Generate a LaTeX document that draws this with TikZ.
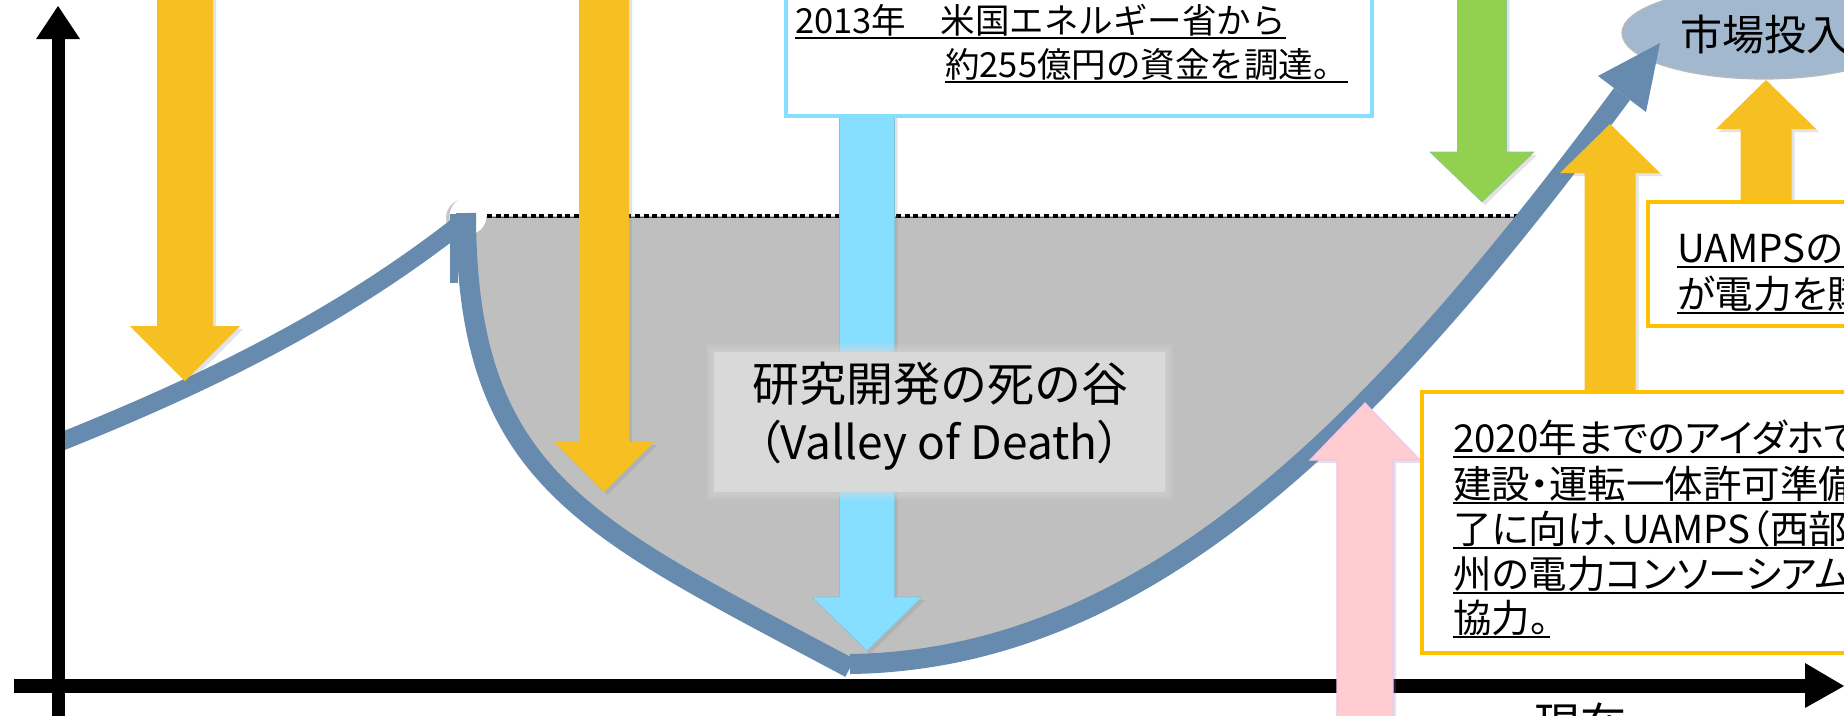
\documentclass[tikz,border=0pt]{standalone}
\usepackage{fontspec}
\setmainfont{Noto Sans CJK JP}
\newfontfamily\jpp{Noto Sans CJK JP}[RawFeature=+palt]
\usetikzlibrary{shadows}
\definecolor{ylw}{HTML}{F6C023}
\definecolor{lblue}{HTML}{87DFFF}
\definecolor{grn}{HTML}{92D050}
\definecolor{pnk}{HTML}{FFCCD0}
\definecolor{pnkedge}{HTML}{EEC4F2}
\definecolor{cblue}{HTML}{668BAE}
\definecolor{valley}{HTML}{BFBFBF}
\definecolor{lbl}{HTML}{D9D9D9}
\definecolor{ell}{HTML}{A2B8CF}
\definecolor{orng}{HTML}{FFC000}
\definecolor{dotline}{HTML}{3F4A6B}
% vertical block arrow: cx, tail y, head base y, tip y, shaft half width, head half width, style
\newcommand{\varrow}[7]{%
  \path[#7] (#1-#5,#2) -- (#1-#5,#3) -- (#1-#6,#3) -- (#1,#4) -- (#1+#6,#3) -- (#1+#5,#3) -- (#1+#5,#2) -- cycle;}
% underlined text line: name, x, baseline y, font, text
\newcommand{\ultext}[5]{%
  \node[anchor=base west, inner sep=0pt, font=#4] (#1) at (#2,#3) {#5};
  \draw[ulline] ([yshift=-5pt]#1.base west) -- ([yshift=-5pt]#1.base east);}
\tikzset{
  ulline/.style={line width=2.4pt, black},
  shd/.style={drop shadow={opacity=0.22, shadow xshift=3pt, shadow yshift=-3pt}},
  yarrow/.style={fill=ylw, shd},
  barrow/.style={fill=lblue, draw=lblue!70!gray, line width=0.6pt, shd},
  garrow/.style={fill=grn, draw=grn!60!lblue!80!gray, line width=0.6pt, shd},
  parrow/.style={fill=pnk, draw=pnkedge, line width=1.2pt, shd},
  curve/.style={cblue, line width=20pt},
  obox/.style={draw=orng, fill=white, line width=3.8pt},
}
\begin{document}
\begin{tikzpicture}[x=1pt, y=-1pt]
\useasboundingbox (0,0) rectangle (1844,715);
\clip (0,0) rectangle (1844,715);
\fill[white] (0,0) rectangle (1844,715);

% grey valley area
\begin{scope}
  \clip (0,216) rectangle (1844,715);
  \fill[valley] (466,100) -- (466,213) .. controls (466,480) and (586,527) .. (850,668)
    -- (850,664) .. controls (1150,660) and (1380,420) .. (1622,94) -- cycle;
\end{scope}

% dotted level line
\draw[dotline, line width=1pt] (487,217.5) -- (1520,217.5);
\draw[black, line width=3.4pt, dash pattern=on 5pt off 3.7pt] (487,216) -- (1520,216);

% white circle at the peak
\fill[gray!45] (465,218) circle (19pt);
\fill[white] (468,216) circle (18.5pt);

% market ellipse
\draw[fill=ell, draw=gray!55, line width=1.2pt] (1764,33) ellipse (142pt and 46pt);
\node[anchor=west, inner sep=0pt, font=\fontsize{42}{46}\selectfont] (mkt) at (1680,35) {市場投入};

% blue curves
\draw[curve, line width=18pt] (58,443) .. controls (208,383) and (340,318) .. (460,224);
\draw[curve] (466,213) .. controls (466,480) and (586,527) .. (850,668);
\fill[cblue] (450,214) rectangle (458,283);
\draw[curve] (850,664) .. controls (1150,660) and (1380,420) .. (1622,94);
\fill[cblue] (1598,76) -- (1660,43) -- (1646,112) -- cycle;

% axes
\draw[line width=13pt] (58,720) -- (58,37);
\fill (36,39) -- (80,39) -- (58,6) -- cycle;
\draw[line width=14pt] (14,686) -- (1808,686);
\fill (1805,663) -- (1805,708) -- (1844,686) -- cycle;

% block arrows
\varrow{185}{-10}{326}{381}{28}{55}{yarrow}
\varrow{604}{-10}{442}{492}{25}{50}{yarrow}
\varrow{867}{110}{597}{651}{27.5}{55}{barrow}
\varrow{1482}{-10}{152}{202}{24.5}{52}{garrow}
\varrow{1610}{392}{173}{124}{25.5}{50}{yarrow}
\varrow{1766}{202}{129}{80}{25.5}{50}{yarrow}
\varrow{1365}{725}{460}{403}{28}{55}{parrow}

% valley label with soft edge
\foreach \g in {8,6,4,2} {
  \fill[lbl, opacity=0.18] (714-\g,352-\g) rectangle (1165+\g,492+\g);
}
\fill[lbl] (714,352) rectangle (1165,492);
\node[font=\fontsize{47}{50}\selectfont, inner sep=0pt] (vt1) at (940,384) {研究開発の死の谷};
\node[font=\jpp\fontsize{46}{50}\selectfont, inner sep=0pt] (vt2) at (939,445) {（Valley of Death）};

% 2013 box
\draw[draw=lblue, fill=white, line width=3.5pt] (786,-10) rectangle (1372,116);
\ultext{ta}{795}{33}{\fontsize{34.5}{40}\selectfont}{2013年　米国エネルギー省から}
\ultext{tb}{945}{77}{\fontsize{34.5}{40}\selectfont}{約255億円の資金を調達。}

% UAMPS box
\draw[obox] (1648,202) rectangle (1900,326);
\ultext{ua}{1677}{262}{\jpp\fontsize{38.5}{44}\selectfont}{UAMPSのメ}
\ultext{ub}{1677}{308}{\jpp\fontsize{38.5}{44}\selectfont}{が電力を購}

% 2020 box
\draw[obox] (1422,392) rectangle (1900,653);
\ultext{ca}{1453}{452}{\jpp\fontsize{38.5}{44}\selectfont}{2020年までのアイダホでの}
\ultext{cb}{1453}{498}{\jpp\fontsize{38.5}{44}\selectfont}{建設・運転一体許可準備}
\ultext{cc}{1453}{543}{\jpp\fontsize{38.5}{44}\selectfont}{了に向け、UAMPS（西部8}
\ultext{cd}{1453}{588}{\jpp\fontsize{38.5}{44}\selectfont}{州の電力コンソーシアム）}
\ultext{ce}{1453}{632}{\jpp\fontsize{38.5}{44}\selectfont}{協力。}

% time label
\node[anchor=north west, inner sep=0pt, font=\fontsize{46}{50}\selectfont] (now) at (1534,703) {現在};
\end{tikzpicture}
\end{document}
